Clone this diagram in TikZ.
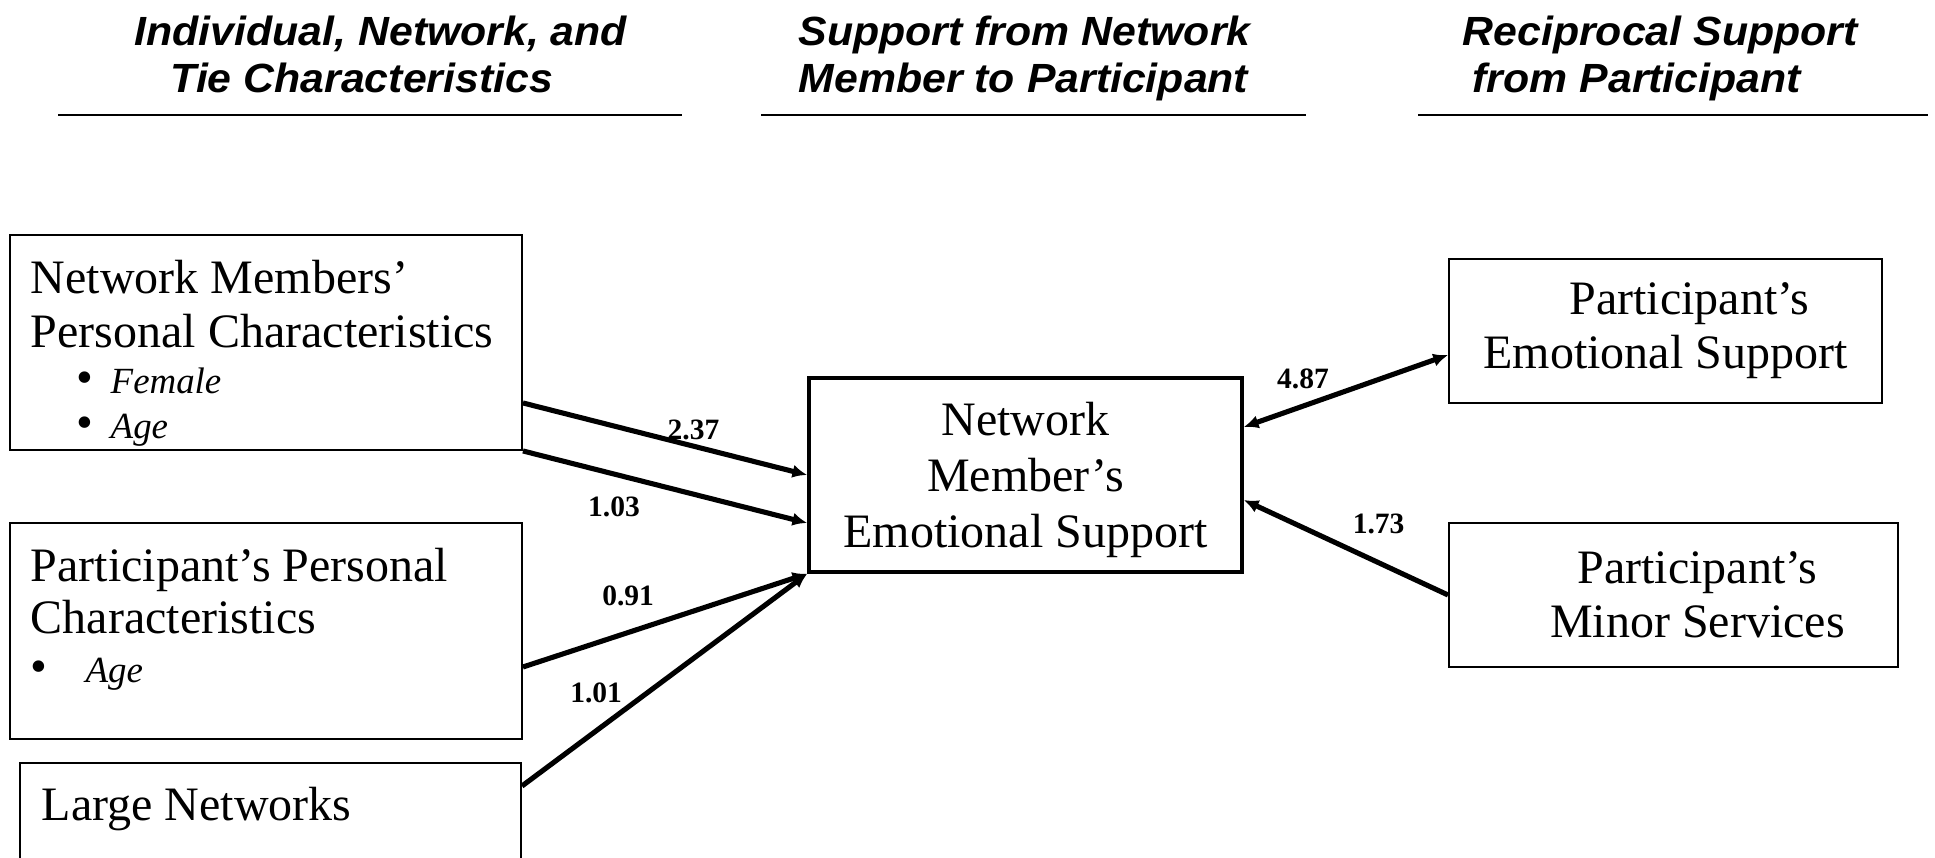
\documentclass[tikz,border=0pt]{standalone}
\usepackage{fontspec}
\setmainfont{Liberation Serif}
\newfontfamily\headfont[FakeStretch=1.05]{Liberation Sans}
\usetikzlibrary{arrows.meta,positioning}
\newcommand{\boxfont}{\fontsize{13.66}{15.4}\selectfont}
\newcommand{\itemfont}{\fontsize{10.5}{12.6}\selectfont\itshape}

\begin{document}
\begin{tikzpicture}[
  box/.style={draw,line width=0.55pt,inner sep=0pt},
  mainbox/.style={draw,line width=1pt,inner sep=0pt,align=center,font=\fontsize{13.66}{15.8}\selectfont},
  boxtext/.style={inner sep=0pt,align=left,anchor=north west,font=\boxfont},
  head/.style={inner sep=0pt,align=left,anchor=north west,font=\headfont\bfseries\itshape\fontsize{11.6}{13.5}\selectfont},
  rule/.style={line width=0.8pt},
  arr/.style={-{Latex[length=4.2pt,width=3.8pt]},line width=1.45pt},
  darr/.style={{Latex[length=4.2pt,width=3.8pt]}-{Latex[length=4.2pt,width=3.8pt]},line width=1.45pt},
  lbl/.style={inner sep=1pt,font=\fontsize{8.4}{10}\selectfont\bfseries},
]
\useasboundingbox (0,0) rectangle (19.35,-8.58);
\clip (0,0) rectangle (19.35,-8.58);

% column headings
\node[head] (h1) at (1.34,-0.15) {Individual, Network, and\\\hspace*{0.36cm}Tie Characteristics};
\node[head] (h2) at (7.98,-0.15) {Support from Network\\Member to Participant};
\node[head] (h3) at (14.62,-0.15) {Reciprocal Support\\\hspace*{0.10cm}from Participant};
\draw[rule] (0.58,-1.15) -- (6.82,-1.15);
\draw[rule] (7.61,-1.15) -- (13.06,-1.15);
\draw[rule] (14.18,-1.15) -- (19.28,-1.15);

% left column
\node[box,minimum width=5.12cm,minimum height=2.15cm] (nmbox) at (2.66,-3.425) {};
\node[boxtext] (nmtext) at (0.30,-2.59) {Network Members’\\Personal Characteristics\\[-2.1pt]\hspace*{0.456cm}\textbullet\hspace{0.176cm}{\itemfont Female}\\[-2.7pt]\hspace*{0.456cm}\textbullet\hspace{0.176cm}{\itemfont Age}};

\node[box,minimum width=5.12cm,minimum height=2.16cm] (ppbox) at (2.66,-6.31) {};
\node[boxtext] (pptext) at (0.30,-5.47) {Participant’s Personal\\[-0.4pt]Characteristics\\[-1.5pt]\textbullet\hspace{0.38cm}{\itemfont Age}};

\node[box,minimum width=5.01cm,minimum height=1.37cm] (lnbox) at (2.705,-8.315) {};
\node[boxtext] (lntext) at (0.41,-7.86) {Large Networks};

% middle and right
\node[mainbox,minimum width=4.33cm,minimum height=1.94cm] (nes) at (10.255,-4.75) {\rule{0pt}{0.9em}Network\\Member’s\\Emotional Support};
\node[box,align=center,font=\boxfont,minimum width=4.33cm,minimum height=1.44cm] (pes) at (16.655,-3.31) {\hspace*{1em}Participant’s\\Emotional Support};
\node[box,align=center,font=\boxfont,minimum width=4.49cm,minimum height=1.44cm] (pms) at (16.735,-5.95) {\hspace*{1em}Participant’s\\\hspace*{1em}Minor Services};

% paths
\draw[arr] ([yshift=0.48cm]nmbox.south east) -- (nes.west) node[lbl,pos=0.6,above] (l1) {2.37};
\draw[arr] (nmbox.south east) -- ([yshift=-0.48cm]nes.west) node[lbl,pos=0.32,below=0.17cm] (l2) {1.03};
\draw[arr] ([yshift=-0.36cm]ppbox.east) -- (nes.south west) node[lbl,pos=0.37,above=0.21cm] (l3) {0.91};
\draw[arr] ([yshift=-0.24cm]lnbox.north east) -- (nes.south west) node[lbl,pos=0.26,above=0.22cm] (l4) {1.01};
\draw[darr] ([yshift=0.48cm]nes.east) -- ([yshift=-0.24cm]pes.west) node[lbl,pos=0.29,above=0.11cm] (l5) {4.87};
\draw[arr] (pms.west) -- ([yshift=-0.25cm]nes.east) node[lbl,pos=0.34,above=0.23cm] (l6) {1.73};

\end{tikzpicture}
\end{document}
